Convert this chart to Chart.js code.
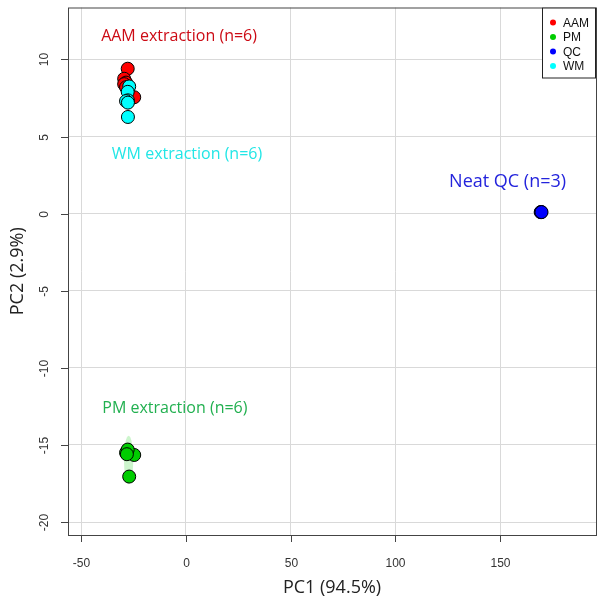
<!DOCTYPE html>
<html>
<head>
<meta charset="utf-8">
<script src="https://cdn.jsdelivr.net/npm/chart.js@4.4.1/dist/chart.umd.min.js"></script>
<style>
  html, body { margin: 0; padding: 0; background: #fff; }
  #wrap { width: 604px; height: 605px; }
</style>
</head>
<body>
<div id="wrap"><canvas id="pca"></canvas></div>
<script>
// scores
const groups = ['AAM', 'PM', 'QC', 'WM'];
const groupColors = ['#ff0000', '#00cd00', '#0000ff', '#00ffff'];

const aamPC1 = [-27.8, -29.5, -28.6, -29.5, -24.7, -28.6];
const aamPC2 = [9.4, 8.75, 8.5, 8.4, 7.55, 8.2];
const pmPC1 = [-27.8, -28.6, -24.7, -27.8, -27.1, -28.2];
const pmPC2 = [-15.43, -15.5, -15.65, -15.3, -17.05, -15.6];
const qcPC1 = [169.5, 169.3, 169.7];
const qcPC2 = [0.1, 0.1, 0.1];
const wmPC1 = [-27.1, -27.8, -27.7, -28.6, -27.7, -27.7];
const wmPC2 = [8.25, 7.9, 7.35, 7.3, 7.2, 6.27];

const xTicks = [-50, 0, 50, 100, 150];
const yTicks = [-20, -15, -10, -5, 0, 5, 10];

// text labels in the plot, in data units
const noteText = ['AAM extraction (n=6)', 'WM extraction (n=6)', 'Neat QC (n=3)', 'PM extraction (n=6)'];
const noteX = [-3.3, 0.5, 153.5, -5.3];
const noteY = [11.5, 3.85, 2.07, -12.6];
const noteColor = ['#cc0a14', '#22e6e6', '#2424dc', '#22b050'];
const noteSize = [16, 16, 18, 16];

const toPts = (xs, ys) => xs.map((x, i) => ({ x: x, y: ys[i] }));

const frame = {
  id: 'frame',
  beforeDatasetsDraw(chart) {
    // light confidence band around the PM group
    const { ctx, scales: { x, y } } = chart;
    const cx = pmPC1.reduce((a, b) => a + b, 0) / pmPC1.length;
    const top = Math.max(...pmPC2) + 0.9, bot = Math.min(...pmPC2) - 0.5;
    const ry = Math.abs(y.getPixelForValue(top) - y.getPixelForValue(bot)) / 2;
    const rx = Math.abs(x.getPixelForValue(cx + 2.2) - x.getPixelForValue(cx));
    ctx.save();
    ctx.fillStyle = 'rgba(0,205,0,0.2)';
    ctx.beginPath();
    ctx.ellipse(x.getPixelForValue(cx), y.getPixelForValue((top + bot) / 2), rx, ry, 0, 0, Math.PI * 2);
    ctx.fill();
    ctx.restore();
  },
  afterDraw(chart) {
    const { ctx, chartArea: a, scales: { x, y } } = chart;
    ctx.save();
    ctx.strokeStyle = '#444';
    ctx.lineWidth = 1;
    ctx.strokeRect(a.left + 0.5, a.top + 0.5, a.right - a.left, a.bottom - a.top);

    // ticks + tick labels
    ctx.fillStyle = '#333';
    ctx.font = '12px "Liberation Sans", Arial, sans-serif';
    ctx.textAlign = 'center';
    ctx.textBaseline = 'middle';
    xTicks.forEach(v => {
      const px = Math.round(x.getPixelForValue(v)) + 0.5;
      ctx.beginPath();
      ctx.moveTo(px, a.bottom);
      ctx.lineTo(px, a.bottom + 7);
      ctx.stroke();
      ctx.fillText(String(v), px, a.bottom + 29);
    });
    yTicks.forEach(v => {
      const py = Math.round(y.getPixelForValue(v)) + 0.5;
      ctx.beginPath();
      ctx.moveTo(a.left, py);
      ctx.lineTo(a.left - 7, py);
      ctx.stroke();
      ctx.save();
      ctx.translate(a.left - 23, py);
      ctx.rotate(-Math.PI / 2);
      ctx.fillText(String(v), 0, 0);
      ctx.restore();
    });

    // axis titles
    ctx.fillStyle = '#222';
    ctx.font = '18px "Open Sans", sans-serif';
    ctx.fillText('PC1 (94.5%)', (a.left + a.right) / 2, 588);
    ctx.save();
    ctx.translate(18, (a.top + a.bottom) / 2);
    ctx.rotate(-Math.PI / 2);
    ctx.fillText('PC2 (2.9%)', 0, 0);
    ctx.restore();

    // group notes
    noteText.forEach((t, i) => {
      ctx.fillStyle = noteColor[i];
      ctx.font = noteSize[i] + 'px "Open Sans", sans-serif';
      ctx.fillText(t, x.getPixelForValue(noteX[i]), y.getPixelForValue(noteY[i]));
    });

    // legend in top right corner
    const lw = 54, lh = 70;
    const lx = a.right - lw, ly = a.top;
    ctx.fillStyle = '#fff';
    ctx.fillRect(lx, ly, lw, lh);
    ctx.strokeStyle = '#222';
    ctx.strokeRect(lx + 0.5, ly + 0.5, lw - 1, lh);
    ctx.font = '12px "Liberation Sans", Arial, sans-serif';
    ctx.textAlign = 'left';
    groups.forEach((g, i) => {
      const ry = ly + 15 + i * 14.5;
      ctx.fillStyle = groupColors[i];
      ctx.beginPath();
      ctx.arc(lx + 11, ry, 3, 0, Math.PI * 2);
      ctx.fill();
      ctx.fillStyle = '#111';
      ctx.fillText(g, lx + 21, ry + 1);
    });
    ctx.restore();
  }
};

const mk = (label, pts, color) => ({
  label: label,
  data: pts,
  backgroundColor: color,
  borderColor: '#000',
  borderWidth: 1,
  pointRadius: 6.5,
  pointHoverRadius: 6.5
});

// chart.js paints dataset 0 last, so WM ends up on top of AAM
new Chart(document.getElementById('pca'), {
  type: 'scatter',
  data: {
    datasets: [
      mk('WM', toPts(wmPC1, wmPC2), groupColors[3]),
      mk('AAM', toPts(aamPC1, aamPC2), groupColors[0]),
      mk('PM', toPts(pmPC1, pmPC2), groupColors[1]),
      mk('QC', toPts(qcPC1, qcPC2), groupColors[2])
    ]
  },
  options: {
    responsive: true,
    maintainAspectRatio: false,
    animation: false,
    layout: { padding: { left: 68, right: 8, top: 7, bottom: 70 } },
    plugins: { legend: { display: false }, tooltip: { enabled: false } },
    scales: {
      x: {
        type: 'linear',
        min: -56.3,
        max: 195.7,
        afterFit(s) { s.height = 0; },
        afterBuildTicks(s) { s.ticks = xTicks.map(v => ({ value: v })); },
        ticks: { display: false },
        grid: { color: '#d9d9d9', drawTicks: false },
        border: { display: false }
      },
      y: {
        type: 'linear',
        min: -20.84,
        max: 13.37,
        afterFit(s) { s.width = 0; },
        afterBuildTicks(s) { s.ticks = yTicks.map(v => ({ value: v })); },
        ticks: { display: false },
        grid: { color: '#d9d9d9', drawTicks: false },
        border: { display: false }
      }
    }
  },
  plugins: [frame]
});
</script>
</body>
</html>
